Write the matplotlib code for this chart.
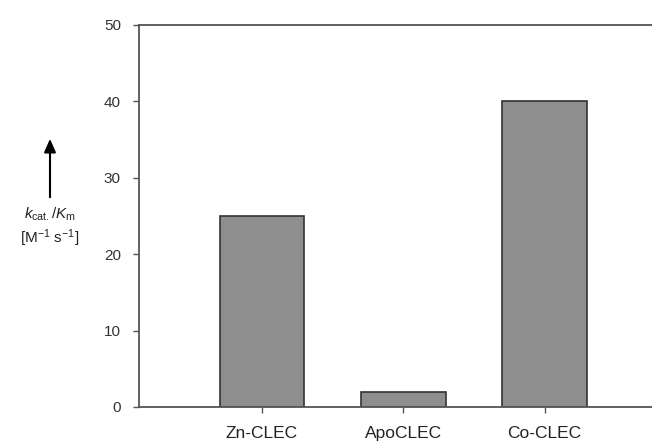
import matplotlib
matplotlib.use("Agg")
import matplotlib.pyplot as plt

categories = ["Zn-CLEC", "ApoCLEC", "Co-CLEC"]
values = [25, 2, 40]
yticks = [0, 10, 20, 30, 40, 50]

plt.rcParams['font.family'] = ['Liberation Sans', 'DejaVu Sans']
plt.rcParams['mathtext.fontset'] = 'custom'
plt.rcParams['mathtext.rm'] = 'Liberation Sans'
plt.rcParams['mathtext.it'] = 'Liberation Sans:italic'

fig = plt.figure(figsize=(6.52, 4.46), dpi=100)
ax = fig.add_axes([139/652, 39/446, 1 - 139/652, (407-25)/446])

x = list(range(len(categories)))
ax.bar(x, values, width=0.6, color="#8e8e8e", edgecolor="#333333", linewidth=1.2)
ax.set_xlim(-0.87, 2.76)
ax.set_ylim(0, 50)
ax.set_yticks(yticks)
ax.set_xticks(x)
ax.set_xticklabels(categories, fontsize=12.5)
ax.tick_params(axis='y', labelsize=11, colors="#555555", length=4, width=1, pad=9)
ax.tick_params(axis='x', length=4, width=1, colors="#555555", pad=10)
for lab in ax.get_xticklabels():
    lab.set_color("#222222")
for lab in ax.get_yticklabels():
    lab.set_color("#333333")
ax.spines['right'].set_visible(False)
for s in ['left', 'top', 'bottom']:
    ax.spines[s].set_color("#555555")
    ax.spines[s].set_linewidth(1.3)

# y-axis label with arrow
ax.annotate("", xy=(50/652, 1 - 136/446), xytext=(50/652, 1 - 200/446),
            xycoords='figure fraction', textcoords='figure fraction',
            arrowprops=dict(arrowstyle='-|>,head_length=0.8,head_width=0.35', color='black', lw=1.5))
fig.text(50/652, 1 - 214/446, r'$k_{\mathrm{cat.}}/K_{\mathrm{m}}$', ha='center', va='center', fontsize=11, color="#222222")
fig.text(50/652, 1 - 238/446, r'[M$^{-1}$ s$^{-1}$]', ha='center', va='center', fontsize=11, color="#222222")

fig.savefig("out.png", dpi=100)
